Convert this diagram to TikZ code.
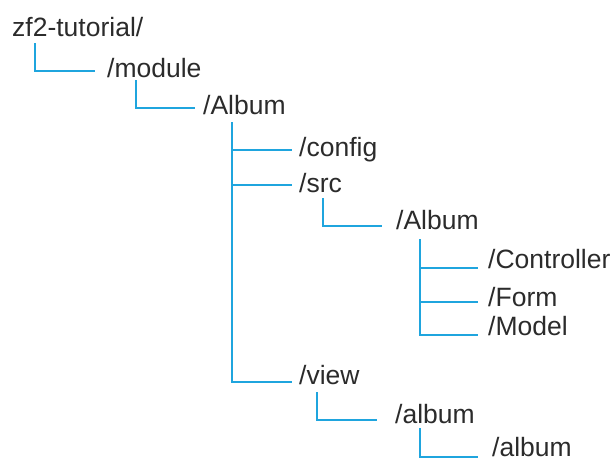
\documentclass[tikz,border=0pt]{standalone}
\usepackage{fontspec}
\setmainfont{Liberation Sans}
\usepackage{tikz}

\definecolor{treeblue}{HTML}{1FA5DE}
\definecolor{dirgray}{HTML}{2B2B2B}

\tikzset{
    dir/.style={anchor=base west, inner sep=0pt, text=dirgray,
        font=\fontsize{26.5}{31}\selectfont},
    branch/.style={draw=treeblue, line width=1.6pt}
}

\begin{document}
\begin{tikzpicture}[x=1pt,y=-1pt]
    \useasboundingbox (0,0) rectangle (615,461);

    % folders
    \node[dir] (root) at (12,36) {zf2-tutorial/};
    \node[dir] (module) at (107,77) {/module};
    \node[dir] (album) at (203,114) {/Album};
    \node[dir] (config) at (299,156) {/config};
    \node[dir] (src) at (299,192) {/src};
    \node[dir] (srcalbum) at (396,229) {/Album};
    \node[dir] (controller) at (488,268) {/Controller};
    \node[dir] (form) at (488,306) {/Form};
    \node[dir] (model) at (488,335) {/Model};
    \node[dir] (view) at (299,384) {/view};
    \node[dir] (viewalbum) at (395,423) {/album};
    \node[dir] (inner) at (492,456) {/album};

    % tree lines
    \draw[branch] ([xshift=23pt,yshift=-7pt]root.base west) |- ([xshift=-12pt,yshift=6pt]module.base west);
    \draw[branch] ([xshift=29pt,yshift=-3pt]module.base west) |- ([xshift=-8pt,yshift=6pt]album.base west);

    \draw[branch] ([xshift=29pt,yshift=-8pt]album.base west) |- ([xshift=-7pt,yshift=6pt]config.base west)
                  ([xshift=29pt,yshift=-8pt]album.base west) |- ([xshift=-7pt,yshift=7pt]src.base west)
                  ([xshift=29pt,yshift=-8pt]album.base west) |- ([xshift=-7pt,yshift=2pt]view.base west);

    \draw[branch] ([xshift=24pt,yshift=-6pt]src.base west) |- ([xshift=-14pt,yshift=3pt]srcalbum.base west);

    \draw[branch] ([xshift=24pt,yshift=-10pt]srcalbum.base west) |- ([xshift=-10pt,yshift=0pt]controller.base west)
                  ([xshift=24pt,yshift=-10pt]srcalbum.base west) |- ([xshift=-10pt,yshift=4pt]form.base west)
                  ([xshift=24pt,yshift=-10pt]srcalbum.base west) |- ([xshift=-10pt,yshift=0pt]model.base west);

    \draw[branch] ([xshift=18pt,yshift=-8pt]view.base west) |- ([xshift=-18pt,yshift=3pt]viewalbum.base west);
    \draw[branch] ([xshift=25pt,yshift=-5pt]viewalbum.base west) |- ([xshift=-14pt,yshift=-1pt]inner.base west);

\end{tikzpicture}
\end{document}
